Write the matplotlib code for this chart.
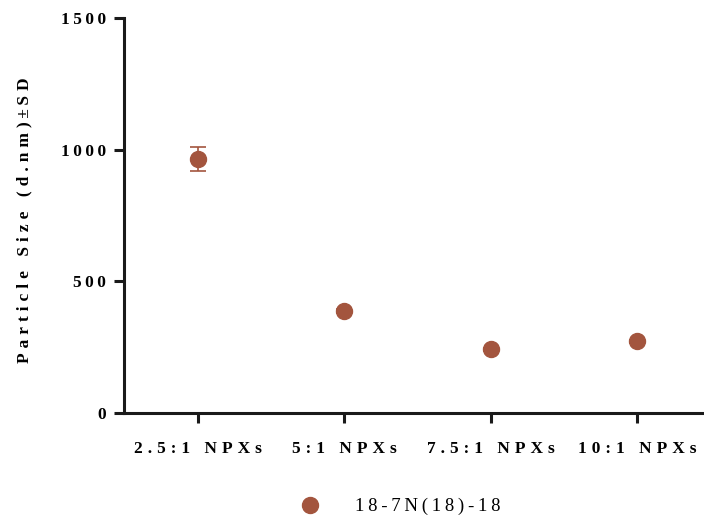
import matplotlib.pyplot as plt
import numpy as np

# Data
categories = ["2.5:1 NPXs", "5:1 NPXs", "7.5:1 NPXs", "10:1 NPXs"]
sizes = [965, 388, 243, 273]
sd = [47, 8, 6, 6]
series_name = "18-7N(18)-18"
y_ticks = [0, 500, 1000, 1500]

color = "#A3553E"
THIN = "\u2009"
HAIR = "\u200a"


def spaced(s, gap=THIN):
    # mimic the wide letter spacing of the original
    return gap.join(s)


plt.rcParams['font.family'] = ['Liberation Serif', 'DejaVu Serif']

fig = plt.figure(figsize=(7.04, 5.19), dpi=100)
ax = fig.add_axes([0.176, 0.204, 0.833, 0.761])

x = np.arange(len(categories))
ax.errorbar(x, sizes, yerr=sd, fmt='o', color=color, ecolor=color,
            markersize=11.5, elinewidth=1.2, capsize=6, capthick=1.2,
            label=series_name, clip_on=False, zorder=3)

ax.set_xlim(-0.505, 3.5)
ax.set_ylim(0, 1500)
ax.set_xticks(x)
ax.set_xticklabels([spaced(c, THIN + HAIR) for c in categories],
                   fontsize=12.5, fontweight='bold')
ax.set_yticks(y_ticks)
ax.set_yticklabels([spaced(str(t)) for t in y_ticks], fontsize=12.5, fontweight='bold')

ylab = spaced("Particle Size (d.nm)", THIN + HAIR) + THIN + "\u00b1" + THIN + spaced("SD", THIN + HAIR)
ax.set_ylabel(ylab, fontsize=12.5, fontweight='bold')
ax.yaxis.set_label_coords(-0.156, 0.488)

for side in ['top', 'right']:
    ax.spines[side].set_visible(False)
for side in ['left', 'bottom']:
    ax.spines[side].set_linewidth(2.2)
    ax.spines[side].set_color("#1a1a1a")
ax.tick_params(axis='both', width=2.2, length=7, color="#1a1a1a", pad=6)
ax.tick_params(axis='x', pad=13)

fig.legend([ax.lines[0]], [spaced(series_name)],
           loc='center', bbox_to_anchor=(0.562, 0.024), frameon=False,
           fontsize=13.5, handletextpad=1.4, numpoints=1)

fig.savefig("out.png", dpi=100)
